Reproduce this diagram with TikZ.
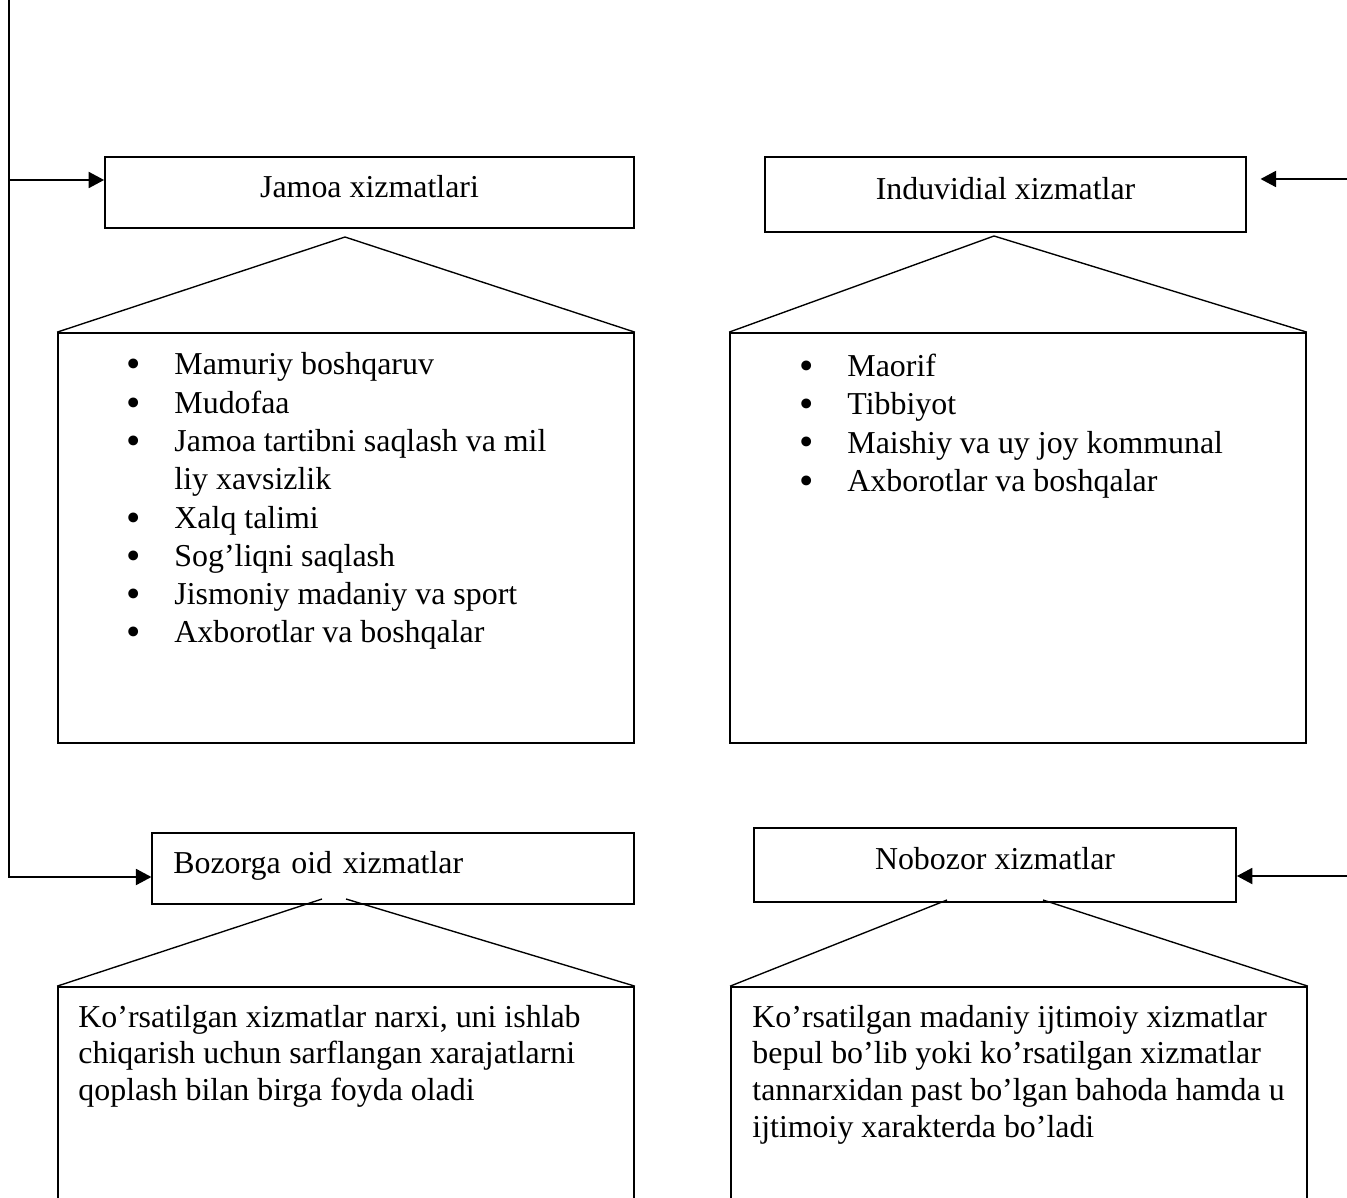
\documentclass[tikz,border=0pt]{standalone}
\usepackage{fontspec}
\setmainfont{Liberation Serif}
\usetikzlibrary{arrows.meta}
\def\pxu{0.439pt}
\newcommand{\blt}{\makebox[0pt]{\raisebox{-1.3pt}{\fontsize{18}{18}\selectfont\textbullet}}}

\begin{document}
\begin{tikzpicture}[x=\pxu,y=-\pxu,inner sep=0pt,font=\fontsize{14}{16.8}\selectfont]
    \tikzstyle{box}=[rectangle,draw,line width=0.75pt]
    \tikzstyle{head}=[box,text height=0.68em,text depth=0.22em]
    \tikzstyle{roof}=[line width=0.6pt]
    \tikzstyle{arr}=[line width=0.9pt,-{Triangle[length=6.8pt,width=7pt]}]
    \clip (0,0) rectangle (1347,1198);

    % headings
    \node[head,minimum width=529*\pxu,minimum height=71*\pxu] (jam) at (369.5,192.5) {Jamoa xizmatlari};
    \node[head,minimum width=481*\pxu,minimum height=75*\pxu] (ind) at (1005.5,194.5) {Induvidial xizmatlar};
    \node[head,align=left,text width=440*\pxu,inner xsep=21*\pxu,minimum height=71*\pxu] (boz) at (393.3,868.5) {Bozorga oid xizmatlar};
    \node[head,minimum width=482*\pxu,minimum height=74*\pxu] (nob) at (995,864.7) {Nobozor xizmatlar};

    % big boxes
    \node[box,minimum width=576*\pxu,minimum height=410*\pxu] (bigJ) at (346,538) {};
    \node[box,minimum width=576*\pxu,minimum height=410*\pxu] (bigI) at (1018,538) {};
    \node[box,minimum width=576*\pxu,minimum height=253*\pxu] (bigB) at (346,1113.5) {};
    \node[box,minimum width=576*\pxu,minimum height=253*\pxu] (bigN) at (1019,1113.5) {};

    \node[anchor=base west] (listJ) at (133,375) {\begin{tabular}[t]{@{}l@{\hspace{18pt}}l@{}}
        \blt & Mamuriy boshqaruv\\
        \blt & Mudofaa\\
        \blt & Jamoa tartibni saqlash va mil\\
         & liy xavsizlik\\
        \blt & Xalq talimi\\
        \blt & Sog’liqni saqlash\\
        \blt & Jismoniy madaniy va sport\\
        \blt & Axborotlar va boshqalar
    \end{tabular}};
    \node[anchor=base west] (listI) at (806,376.5) {\begin{tabular}[t]{@{}l@{\hspace{18pt}}l@{}}
        \blt & Maorif\\
        \blt & Tibbiyot\\
        \blt & Maishiy va uy joy kommunal\\
        \blt & Axborotlar va boshqalar
    \end{tabular}};
    \node[anchor=base west,font=\fontsize{14}{16.2}\selectfont] (txtB) at (78,1027) {\begin{tabular}[t]{@{}l@{}}
        Ko’rsatilgan xizmatlar narxi, uni ishlab\\
        chiqarish uchun sarflangan xarajatlarni\\
        qoplash bilan birga foyda oladi
    \end{tabular}};
    \node[anchor=base west,font=\fontsize{14}{16.2}\selectfont] (txtN) at (752,1027) {\begin{tabular}[t]{@{}l@{}}
        Ko’rsatilgan madaniy ijtimoiy xizmatlar\\
        bepul bo’lib yoki ko’rsatilgan xizmatlar\\
        tannarxidan past bo’lgan bahoda hamda u\\
        ijtimoiy xarakterda bo’ladi
    \end{tabular}};

    % roofs
    \coordinate (pj) at (345,237);
    \coordinate (pi) at (994,236);
    \foreach \b/\p in {bigJ/pj,bigI/pi}
        \draw[roof] (\b.north west) -- (\p) -- (\b.north east);
    \coordinate (pb1) at (322,899);
    \coordinate (pb2) at (346,899);
    \coordinate (pn1) at (947,900);
    \coordinate (pn2) at (1043,900);
    \foreach \b/\p/\q in {bigB/pb1/pb2,bigN/pn1/pn2} {
        \draw[roof] (\b.north west) -- (\p);
        \draw[roof] (\q) -- (\b.north east);
    };

    % arrows
    \coordinate (ltop) at (9,-5);
    \coordinate (lbot) at (9,877);
    \coordinate (ljam) at (9,180);
    \draw[arr] (ltop) -- (lbot) -- (lbot -| boz.west);
    \draw[arr] (ljam) -- (ljam -| jam.west);
    \coordinate (rind) at (1352,179);
    \coordinate (rnob) at (1352,876);
    \draw[arr,shorten >=6pt] (rind) -- (rind -| ind.east);
    \draw[arr] (rnob) -- (rnob -| nob.east);
\end{tikzpicture}
\end{document}
